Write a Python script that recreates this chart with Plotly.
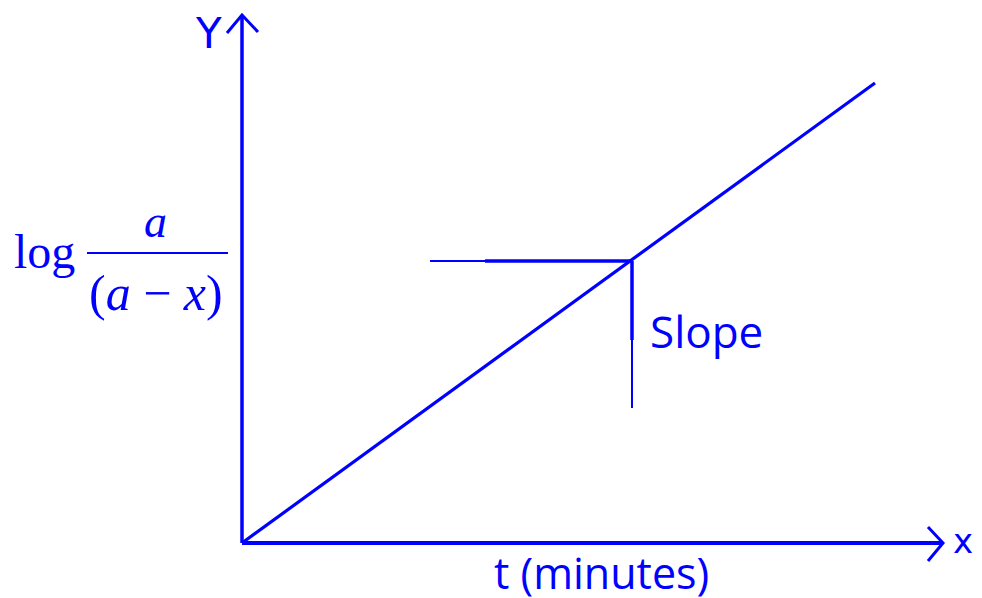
import plotly.graph_objects as go

BLUE = "#0000ff"

# Schematic data (arbitrary units, origin at axis corner)
line_t = [0, 633]
line_y = [0, 460]
tangent_h_thin_t = [188, 243]
tangent_h_thin_y = [282, 282]
tangent_h_t = [243, 390]
tangent_h_y = [282, 282]
tangent_v_t = [390, 390]
tangent_v_y = [282, 203]
tangent_v_thin_t = [390, 390]
tangent_v_thin_y = [203, 135]
xaxis_t = [0, 701]
xaxis_y = [0, 0]
yaxis_t = [0, 0]
yaxis_y = [0, 528]
xarrow_t = [686, 701, 686]
xarrow_y = [16, 0, -18]
yarrow_t = [-15, 0, 16]
yarrow_y = [510, 528, 511]

fig = go.Figure()

def seg(xs, ys, w):
    fig.add_trace(go.Scatter(x=xs, y=ys, mode="lines",
                             line=dict(color=BLUE, width=w),
                             hoverinfo="skip", showlegend=False))

seg(xaxis_t, xaxis_y, 4)
seg(yaxis_t, yaxis_y, 3.5)
seg(xarrow_t, xarrow_y, 3)
seg(yarrow_t, yarrow_y, 3)
seg(line_t, line_y, 3.2)
seg(tangent_h_thin_t, tangent_h_thin_y, 2)
seg(tangent_h_t, tangent_h_y, 3.5)
seg(tangent_v_t, tangent_v_y, 3.5)
seg(tangent_v_thin_t, tangent_v_thin_y, 2)

anns = [
    dict(x=-34, y=510, text="Y", font=dict(family="DejaVu Sans", size=42, color=BLUE)),
    dict(x=721, y=2, text="x", font=dict(family="DejaVu Sans", size=34, color=BLUE)),
    dict(x=406, y=212, text="Slope", xanchor="left",
         font=dict(family="Open Sans", size=44, color=BLUE)),
    dict(x=359, y=-29, text="t (minutes)",
         font=dict(family="Open Sans", size=43, color=BLUE)),
    dict(x=-198, y=292, text="log",
         font=dict(family="Liberation Serif", size=48, color=BLUE)),
    dict(x=-87, y=322, text="<i>a</i>",
         font=dict(family="Liberation Serif", size=46, color=BLUE)),
    dict(x=-86, y=250, text="(<i>a</i> − <i>x</i>)",
         font=dict(family="Liberation Serif", size=50, color=BLUE)),
]
for a in anns:
    a.setdefault("xanchor", "center")
    a.update(yanchor="middle", showarrow=False, xref="x", yref="y")
    fig.add_annotation(**a)

fig.add_shape(type="line", xref="x", yref="y", x0=-155, x1=-14, y0=290, y1=290,
              line=dict(color=BLUE, width=2))

# page has an 8px body margin; figure covers page pixels 8..982 x 8..598
fig.update_layout(
    width=974, height=590,
    margin=dict(l=0, r=0, t=0, b=0),
    paper_bgcolor="white", plot_bgcolor="white",
    xaxis=dict(range=[-234, 740], visible=False, fixedrange=True),
    yaxis=dict(range=[-55, 535], visible=False, fixedrange=True),
)

fig.write_html("out.html")
